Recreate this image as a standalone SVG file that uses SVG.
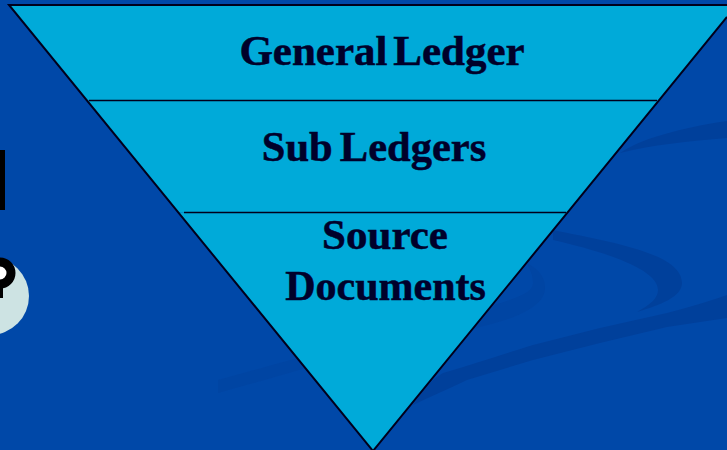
<svg xmlns="http://www.w3.org/2000/svg" width="727" height="450" viewBox="0 0 727 450">
<style>
.sw{fill:#00409b}
.t{font-family:"Liberation Serif","Times New Roman",serif;font-weight:700;font-size:43px;fill:#00002a;stroke:#00002a;stroke-width:.5;text-anchor:middle}
.e{fill:none;stroke:#00001c;stroke-width:2}
.d{fill:none;stroke:#00001c;stroke-width:1.300}
.p{fill:#00aad9}
</style>
<rect width="727" height="450" fill="#0048a8"/>
<g id="background">
<path class="sw" d="M620 153C640 139 680 128 727 121V138C690 141 650 145 620 153Z"/>
<path class="sw" d="M553 230C610 242 682 253 682 283C682 297 660 305 637 312C650 305 658 298 658 290C658 270 610 253 553 240Z"/>
<path class="sw" d="M527 263C540 270 545 278 545 288C545 308 510 320 480 327L440 340L400 340C350 355 290 373 218 393V380C320 352 420 325 470 312C510 300 533 295 533 283C533 275 530 270 527 263Z" opacity=".4"/>
<path class="sw" d="M413 405C420 395 430 380 443 373C480 362 510 352 533 345L600 328L667 313C690 307 710 301 727 295V318L667 327L600 343L533 360L467 380C450 388 430 397 413 405Z"/>
</g>
<rect id="clipped-bar" x="0" y="150" width="5" height="60" fill="#000"/>
<g id="question-badge">
<circle cx="-10" cy="296" r="39" fill="#cde3e3"/>
<circle cx="0" cy="273" r="11" fill="#fff" stroke="#000" stroke-width="9"/>
<rect x="-3" y="284" width="6" height="14" fill="#000"/>
</g>
<g id="pyramid">
<path id="general-ledger" class="p" d="M9 5H737L659 100.500H87Z"/>
<path id="sub-ledgers" class="p" d="M87 100.500H659L567.500 212.500H178.500Z"/>
<path id="source-documents" class="p" d="M178.500 212.500H567.500L373 451Z"/>
</g>
<g id="connectors">
<path class="e" d="M727 5H9L373 451L727 17"/>
<path class="d" d="M89 100.500H657M184 212.500H566"/>
</g>
<g id="labels">
<text class="t" x="382" y="65" word-spacing="-5">General Ledger</text>
<text class="t" x="374" y="161" style="font-size:42.500px" word-spacing="-3.500">Sub Ledgers</text>
<text class="t" x="385" y="249">Source</text>
<text class="t" x="385.500" y="300" style="font-size:42px">Documents</text>
</g>
</svg>
